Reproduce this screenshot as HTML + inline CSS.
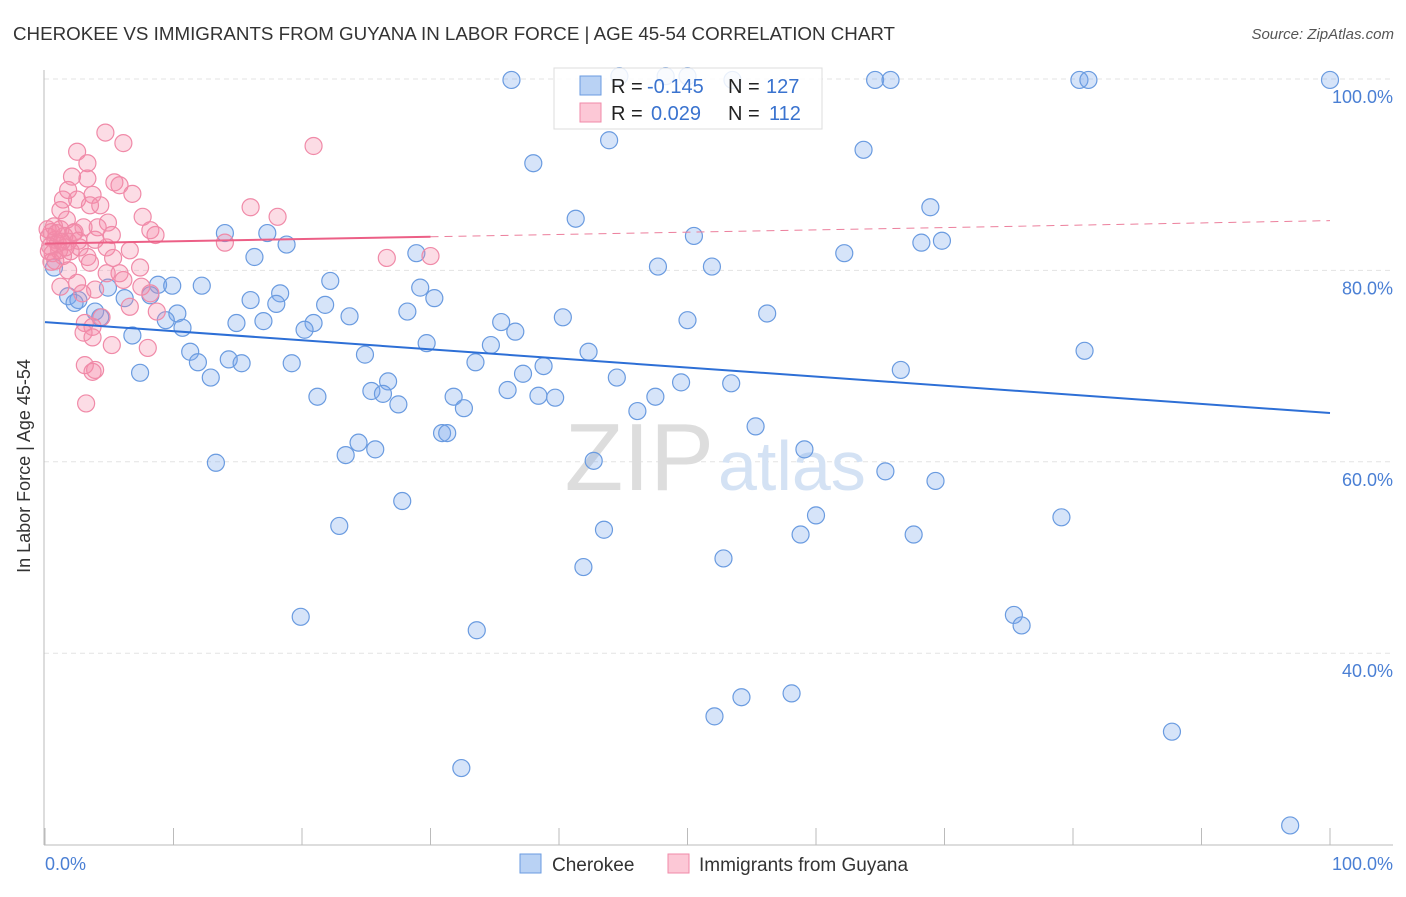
<!DOCTYPE html>
<html><head><meta charset="utf-8"><style>
body{margin:0;background:#fff;font-family:"Liberation Sans",sans-serif;}
svg text{font-family:"Liberation Sans",sans-serif;}
</style></head><body>
<svg id="chart" width="1406" height="892">
<text x="13" y="40" font-size="18" fill="#333" textLength="882" lengthAdjust="spacingAndGlyphs">CHEROKEE VS IMMIGRANTS FROM GUYANA IN LABOR FORCE | AGE 45-54 CORRELATION CHART</text>
<text x="1394" y="39" font-size="15" fill="#555" text-anchor="end" font-style="italic">Source: ZipAtlas.com</text>
<g id="grid"></g>
<text x="714" y="490" font-size="96" fill="#ddd" text-anchor="end" font-family="Liberation Serif">ZIP</text>
<text x="718" y="490" font-size="70" fill="#d4e2f4">atlas</text>
<line x1="44" y1="70" x2="44" y2="845" stroke="#bbb"/>
<line x1="44" y1="845" x2="1393" y2="845" stroke="#bbb"/>
<g id="ticks"></g>
<g id="blue"></g>
<g id="pink"></g>
<g id="trend"></g>
<text x="22" y="458" font-size="18" fill="#333" text-anchor="middle" transform="rotate(-90 30 458)">In Labor Force | Age 45-54</text>
<text x="45" y="870" font-size="18" fill="#4a7fd4">0.0%</text>
<text x="1393" y="870" font-size="18" fill="#4a7fd4" text-anchor="end">100.0%</text>
<g>
<rect x="554" y="68" width="268" height="61" fill="#fff" fill-opacity="0.85" stroke="#ddd"/>
<rect x="580" y="76" width="21" height="19" fill="#b9d2f4" stroke="#6a9be0"/>
<rect x="580" y="103" width="21" height="19" fill="#fcc8d6" stroke="#f08aa8"/>
<text x="611" y="93" font-size="20" fill="#222">R =</text><text x="647" y="93" font-size="20" fill="#3a73cf">-0.145</text>
<text x="728" y="93" font-size="20" fill="#222">N =</text><text x="766" y="93" font-size="20" fill="#3a73cf">127</text>
<text x="611" y="120" font-size="20" fill="#222">R =</text><text x="651" y="120" font-size="20" fill="#3a73cf">0.029</text>
<text x="728" y="120" font-size="20" fill="#222">N =</text><text x="769" y="120" font-size="20" fill="#3a73cf">112</text>
</g>
<g>
<rect x="520" y="854" width="21" height="19" fill="#b9d2f4" stroke="#6a9be0"/>
<text x="552" y="871" font-size="19" fill="#333">Cherokee</text>
<rect x="668" y="854" width="21" height="19" fill="#fcc8d6" stroke="#f08aa8"/>
<text x="699" y="871" font-size="19" fill="#333">Immigrants from Guyana</text>
</g>
</svg>
<script>
const yTicks=[100,80,60,40];
const yTickLabels=["100.0%","80.0%","60.0%","40.0%"];
const xTicks=[0,10,20,30,40,50,60,70,80,90,100];
const blueX=[36.3,53.5,64.6,65.8,80.5,81.2,100,44.7,48.3,50.0,38.0,43.9,63.7,41.3,68.9,14.0,17.3,18.8,16.3,28.9,50.5,68.2,69.8,62.2,47.7,51.9,0.7,22.2,8.8,9.9,12.2,4.9,18.3,29.2,1.8,8.2,2.6,6.2,16.0,30.3,18.0,21.8,2.3,3.9,4.3,10.3,9.4,28.2,23.7,40.3,56.2,50.0,14.9,17.0,20.9,20.2,35.5,10.7,6.8,36.6,29.7,34.7,11.3,24.9,42.3,80.9,11.9,14.3,15.3,19.2,33.5,38.8,7.4,37.2,66.6,12.9,26.7,44.5,49.5,53.4,25.4,26.3,36.0,21.2,31.8,38.4,39.7,47.5,27.5,32.6,46.1,55.3,30.9,31.3,24.4,25.7,23.4,59.1,42.7,13.3,65.4,69.3,27.8,60.0,79.1,22.9,43.5,58.8,67.6,52.8,41.9,19.9,75.4,76.0,33.6,54.2,58.1,52.1,87.7,32.4,96.9];
const blueY=[99.9,99.9,99.9,99.9,99.9,99.9,99.9,100.3,100.3,100.3,91.2,93.6,92.6,85.4,86.6,83.9,83.9,82.7,81.4,81.8,83.6,82.9,83.1,81.8,80.4,80.4,80.3,78.9,78.5,78.4,78.4,78.2,77.6,78.2,77.3,77.4,76.9,77.1,76.9,77.1,76.5,76.4,76.6,75.7,75.1,75.5,74.8,75.7,75.2,75.1,75.5,74.8,74.5,74.7,74.5,73.8,74.6,74.0,73.2,73.6,72.4,72.2,71.5,71.2,71.5,71.6,70.4,70.7,70.3,70.3,70.4,70.0,69.3,69.2,69.6,68.8,68.4,68.8,68.3,68.2,67.4,67.1,67.5,66.8,66.8,66.9,66.7,66.8,66.0,65.6,65.3,63.7,63.0,63.0,62.0,61.3,60.7,61.3,60.1,59.9,59.0,58.0,55.9,54.4,54.2,53.3,52.9,52.4,52.4,49.9,49.0,43.8,44.0,42.9,42.4,35.4,35.8,33.4,31.8,28.0,22.0];
const pinkX=[4.7,6.1,2.5,3.3,2.1,3.3,5.4,5.8,6.8,1.8,3.7,1.4,2.5,4.3,1.2,3.5,7.6,8.2,8.6,4.9,3.0,4.1,5.2,1.7,2.2,3.9,2.7,4.8,6.6,3.3,5.3,7.4,3.5,1.8,5.8,4.8,2.5,1.2,6.1,7.5,8.2,8.7,2.9,3.9,6.6,4.4,3.1,3.7,3.0,3.7,5.2,8.0,3.1,3.9,3.7,3.2,14.0,16.0,18.1,20.9,26.6,30.0,0.3,0.5,0.8,1.0,0.4,1.2,1.5,0.6,1.8,2.0,0.2,1.1,1.4,0.7,2.3,0.9,1.6,0.5,1.3,0.3,2.6,0.8];
const pinkY=[94.4,93.3,92.4,91.2,89.8,89.6,89.2,88.9,88.0,88.4,87.9,87.4,87.4,86.8,86.3,86.8,85.6,84.2,83.7,85.0,84.5,84.5,83.7,85.3,83.9,83.2,82.4,82.4,82.1,81.4,81.3,80.3,80.8,80.0,79.7,79.7,78.7,78.3,79.0,78.3,77.6,75.7,77.6,78.0,76.2,75.1,74.5,74.1,73.5,73.0,72.2,71.9,70.1,69.6,69.4,66.1,82.9,86.6,85.6,93.0,81.3,81.5,83.5,84.0,83.2,82.8,82.5,84.3,83.6,81.8,83.0,82.0,84.3,82.1,81.5,84.6,84.0,83.9,82.4,80.9,83.0,82.0,83.1,81.0];
const blueTrend=[74.6,65.1];
const pinkTrend=[82.8,85.2];
const pinkSolidEnd=30;
const NS="http://www.w3.org/2000/svg";
const X=v=>45+v*12.85, Y=v=>79+(100-v)*9.57;
function mk(tag,attrs,parent){const e=document.createElementNS(NS,tag);for(const k in attrs)e.setAttribute(k,attrs[k]);parent.appendChild(e);return e;}
const grid=document.getElementById('grid');
yTicks.forEach((t,i)=>{
  const l=mk('line',{x1:44,x2:1393,y1:Y(t),y2:Y(t),stroke:'#e3e3e3','stroke-dasharray':'5,4'},grid);
  
  
  const tx=mk('text',{x:1393,y:Y(t)+24,'font-size':18,fill:'#4a7fd4','text-anchor':'end'},grid);
  tx.textContent=yTickLabels[i];
  
  
});
const ticks=document.getElementById('ticks');
xTicks.forEach(t=>{
  const l=mk('line',{x1:X(t),x2:X(t),y1:828,y2:845,stroke:'#bbb'},ticks);
  
  
});
function pts(xs,ys,g,fill,stroke,name){
  xs.forEach((x,i)=>{
    const c=mk('circle',{cx:X(x),cy:Y(ys[i]),r:8.5,fill:fill,stroke:stroke,'stroke-width':1.2},g);
    
    
  });
}
pts(blueX,blueY,document.getElementById('blue'),'rgba(120,165,235,0.3)','#6a9be0','cherokee-point');
pts(pinkX,pinkY,document.getElementById('pink'),'rgba(245,140,170,0.3)','#f08aa8','guyana-point');
const tr=document.getElementById('trend');
const bl=mk('line',{x1:X(0),y1:Y(blueTrend[0]),x2:X(100),y2:Y(blueTrend[1]),stroke:'#2d6fd6','stroke-width':2},tr);


const pAt=x=>pinkTrend[0]+(pinkTrend[1]-pinkTrend[0])*x/100;
const pl=mk('line',{x1:X(0),y1:Y(pAt(0)),x2:X(pinkSolidEnd),y2:Y(pAt(pinkSolidEnd)),stroke:'#ec5f86','stroke-width':2},tr);


const pd=mk('line',{x1:X(pinkSolidEnd),y1:Y(pAt(pinkSolidEnd)),x2:X(100),y2:Y(pAt(100)),stroke:'#ec7f9c','stroke-width':1,'stroke-dasharray':'8,6'},tr);


</script>
</body></html>
